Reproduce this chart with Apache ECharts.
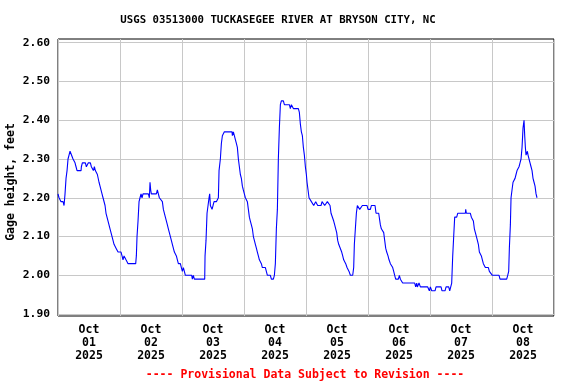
<!DOCTYPE html>
<html>
<head>
<meta charset="utf-8">
<script src="https://cdn.jsdelivr.net/npm/echarts@6/dist/echarts.min.js"></script>
<style>html,body{margin:0;padding:0;background:#fff;}#c{width:576px;height:384px;}</style>
</head>
<body>
<div id="c"></div>
<script>
// hours since 2025-10-01 00:00
const hours = [0,0.40,0.79,1.17,1.56,1.95,2.34,2.72,3.11,3.50,3.88,4.27,4.66,5.43,5.82,6.21,6.59,6.98,7.37,8.92,9.05,9.43,10.59,10.98,11.37,11.75,12.53,12.92,13.30,13.69,14.08,14.46,14.85,15.24,15.63,15.88,16.27,16.66,17.04,17.43,17.82,18.21,18.59,18.98,19.37,19.75,20.14,20.53,20.92,21.30,21.69,22.08,22.46,22.85,23.24,24.01,24.40,24.79,25.17,25.56,25.95,26.33,26.72,27.11,30.08,30.33,30.59,30.98,31.37,31.75,32.14,32.53,32.91,34.98,35.37,35.62,35.88,36.14,38.08,38.46,38.85,39.24,40.01,40.40,40.79,41.17,41.56,41.95,42.34,42.72,43.11,43.50,43.88,44.27,44.66,45.05,45.43,45.82,46.21,46.59,47.37,47.75,
48.14,48.53,48.92,49.30,51.76,52.01,52.40,52.79,56.79,56.92,57.30,57.69,58.08,58.47,58.72,58.98,59.37,59.63,60.01,60.40,61.30,62.08,62.34,62.85,63.24,63.63,64.01,64.40,67.37,67.50,67.88,68.27,68.66,69.05,69.43,69.82,70.21,70.59,70.98,71.37,71.75,72.14,72.53,72.92,73.30,73.69,74.08,74.46,74.85,75.24,75.63,76.01,76.40,76.79,77.17,77.56,77.95,78.34,78.72,79.11,80.27,80.66,81.05,82.21,82.59,83.37,83.76,84.14,84.53,84.92,85.30,85.69,86.08,86.46,87.24,87.63,89.56,89.95,90.34,90.72,91.11,93.05,93.43,93.82,94.21,94.59,94.98,
95.37,95.76,96.14,96.40,96.79,97.17,97.69,98.08,98.59,98.98,99.37,99.76,100.27,100.53,101.82,102.21,102.85,103.24,103.88,104.27,104.92,105.30,105.69,106.21,106.72,107.11,107.50,107.88,108.27,108.66,109.30,109.82,110.21,110.59,110.98,111.37,111.88,112.27,112.66,113.17,114.08,114.46,114.72,115.11,115.50,115.88,116.27,116.79,117.17,117.82,119.63,120.01,120.92,121.30,122.72,123.11,124.14,124.79,125.17,125.69,126.08,126.46,126.85,127.24,127.75,128.14,128.66,129.17,129.56,129.95,130.33,130.72,131.75,132.14,132.53,132.92,133.43,138.08,138.46,138.85,139.11,139.75,140.27,143.11,143.75,
144.14,144.66,145.95,146.34,148.27,148.66,149.82,150.21,151.24,151.63,152.14,152.40,152.79,153.17,153.56,153.95,154.34,154.72,157.69,157.82,158.08,159.63,160.01,160.40,160.79,161.17,161.56,161.95,162.34,162.72,163.11,163.50,163.88,164.27,164.66,165.05,165.43,166.59,166.98,167.63,168.14,170.72,171.11,173.69,174.08,174.46,174.72,175.11,175.37,175.75,176.14,176.53,176.92,177.30,177.69,178.08,178.46,178.85,179.24,179.63,180.01,180.27,180.40,180.66,180.92,181.17,181.43,181.69,181.95,182.33,182.72,183.11,183.50,183.88,184.27,184.66,185.05,185.43];

// gage height, feet
const gage = [2.21,2.20,2.20,2.19,2.19,2.19,2.18,2.21,2.25,2.27,2.30,2.31,2.32,2.32,2.30,2.30,2.29,2.28,2.27,2.27,2.28,2.29,2.29,2.28,2.28,2.29,2.29,2.28,2.28,2.27,2.28,2.27,2.27,2.26,2.26,2.24,2.23,2.23,2.21,2.20,2.20,2.18,2.16,2.16,2.14,2.14,2.12,2.12,2.10,2.09,2.08,2.08,2.07,2.07,2.06,2.06,2.06,2.05,2.04,2.05,2.05,2.04,2.04,2.03,2.03,2.05,2.10,2.14,2.19,2.20,2.21,2.20,2.21,2.21,2.20,2.24,2.22,2.21,2.21,2.22,2.21,2.20,2.20,2.19,2.17,2.17,2.15,2.15,2.13,2.12,2.12,2.10,2.09,2.08,2.08,2.06,2.06,2.05,2.04,2.03,2.03,2.02,
2.01,2.02,2.01,2.00,2.00,1.99,2.00,1.99,1.99,2.05,2.09,2.16,2.18,2.20,2.21,2.18,2.18,2.17,2.18,2.19,2.19,2.20,2.27,2.30,2.34,2.36,2.36,2.37,2.37,2.36,2.37,2.36,2.35,2.34,2.33,2.30,2.28,2.26,2.25,2.23,2.22,2.21,2.20,2.20,2.19,2.17,2.15,2.14,2.13,2.12,2.10,2.09,2.08,2.07,2.06,2.05,2.04,2.04,2.03,2.02,2.02,2.02,2.00,2.00,1.99,1.99,2.00,2.03,2.12,2.17,2.30,2.38,2.44,2.45,2.45,2.44,2.44,2.43,2.44,2.44,2.43,2.43,2.42,2.39,2.37,2.36,2.33,
2.31,2.28,2.26,2.24,2.22,2.20,2.20,2.19,2.19,2.18,2.18,2.19,2.19,2.18,2.18,2.19,2.19,2.18,2.18,2.19,2.19,2.18,2.16,2.16,2.14,2.13,2.12,2.11,2.09,2.08,2.08,2.06,2.05,2.04,2.04,2.03,2.02,2.02,2.01,2.00,2.00,2.02,2.08,2.12,2.16,2.18,2.18,2.17,2.17,2.18,2.18,2.17,2.17,2.18,2.18,2.16,2.16,2.13,2.12,2.12,2.11,2.09,2.07,2.06,2.05,2.04,2.03,2.03,2.02,2.01,2.00,1.99,1.99,2.00,1.99,1.99,1.98,1.98,1.97,1.98,1.97,1.98,1.97,1.97,1.96,
1.97,1.96,1.96,1.97,1.97,1.96,1.96,1.97,1.97,1.96,1.96,1.98,2.05,2.10,2.15,2.15,2.15,2.16,2.16,2.17,2.16,2.16,2.15,2.15,2.14,2.12,2.11,2.11,2.09,2.08,2.06,2.06,2.05,2.04,2.03,2.03,2.02,2.02,2.01,2.01,2.00,2.00,1.99,1.99,2.00,2.01,2.07,2.13,2.20,2.22,2.24,2.24,2.25,2.26,2.27,2.27,2.28,2.29,2.30,2.33,2.38,2.38,2.40,2.36,2.33,2.31,2.31,2.32,2.31,2.30,2.29,2.28,2.27,2.25,2.24,2.23,2.21,2.20];

const dayLabels = ['Oct\n01\n2025','Oct\n02\n2025','Oct\n03\n2025','Oct\n04\n2025','Oct\n05\n2025','Oct\n06\n2025','Oct\n07\n2025','Oct\n08\n2025'];
const yTicks = [1.90,2.00,2.10,2.20,2.30,2.40,2.50,2.60];
const titleText = 'USGS 03513000 TUCKASEGEE RIVER AT BRYSON CITY, NC';
const yName = 'Gage height, feet';
const footerText = '---- Provisional Data Subject to Revision ----';

const FONT = '"DejaVu Sans Mono", "Liberation Mono", monospace';
const data = hours.map((h, i) => [h, gage[i]]);

const chart = echarts.init(document.getElementById('c'), null, {renderer: 'canvas'});
chart.setOption({
  animation: false,
  backgroundColor: '#fff',
  grid: {left: 58, top: 39, width: 496, height: 277, show: true, borderColor: '#000', borderWidth: 1,
         backgroundColor: 'transparent', containLabel: false, outerBoundsMode: 'none'},
  graphic: [
    {type: 'text', style: {text: titleText, x: 278, y: 20, align: 'center', verticalAlign: 'middle', fontSize: 10.7, fontWeight: 'bold', fontFamily: FONT, fill: '#000'}},
    {type: 'text', x: 11, y: 182, rotation: Math.PI / 2,
     style: {text: yName, x: 0, y: 0, align: 'center', verticalAlign: 'middle', fontSize: 11.5, fontWeight: 'bold', fontFamily: FONT, fill: '#000'}},
    {type: 'text', style: {text: footerText, x: 305, y: 375, align: 'center', verticalAlign: 'middle', fontSize: 11.5, fontWeight: 'bold', fontFamily: FONT, fill: '#ff0000'}}
  ],
  xAxis: [
    {type: 'value', position: 'top', min: 0, max: 192, interval: 24,
     axisLine: {show: false}, axisTick: {show: false}, axisLabel: {show: false},
     splitLine: {show: true, lineStyle: {color: '#c8c8c8', width: 1}}},
    {type: 'category', position: 'bottom', data: dayLabels, boundaryGap: true,
     axisLine: {show: false}, axisTick: {show: false}, splitLine: {show: false},
     axisLabel: {interval: 0, margin: 8, lineHeight: 13, fontSize: 11.5, fontWeight: 'bold', fontFamily: FONT, color: '#000'}}
  ],
  yAxis: {
    type: 'value', min: 1.895, max: 2.6095,
    axisLine: {show: false},
    axisTick: {show: false, customValues: yTicks},
    axisLabel: {customValues: yTicks, formatter: v => v.toFixed(2), margin: 8, fontSize: 11.3, fontWeight: 'bold', fontFamily: FONT, color: '#000'},
    splitLine: {show: true, lineStyle: {color: '#c8c8c8', width: 1}}
  },
  series: [{
    type: 'line', xAxisIndex: 0, data: data, symbol: 'none', showSymbol: false,
    lineStyle: {color: '#0000ff', width: 1.1}, itemStyle: {color: '#0000ff'}
  }]
});
</script>
</body>
</html>
